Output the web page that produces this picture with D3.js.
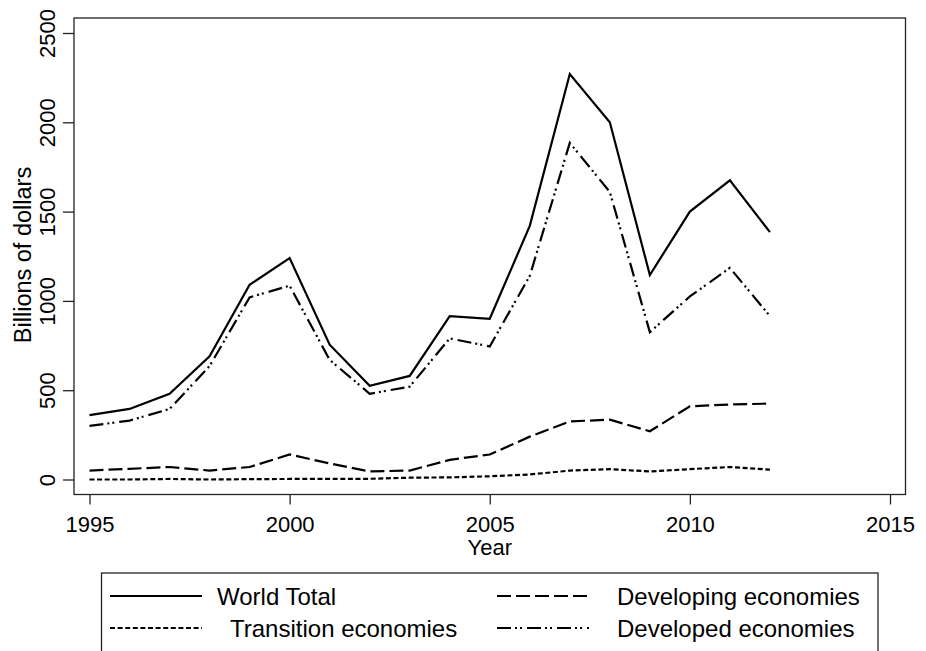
<!DOCTYPE html>
<html>
<head>
<meta charset="utf-8">
<script src="https://cdn.jsdelivr.net/npm/d3@7"></script>
<style>
  body { margin: 0; background: #fff; }
  svg { display: block; font-family: "Liberation Sans", Arial, sans-serif; }
</style>
</head>
<body>
<div id="chart"></div>
<script>
const years = d3.range(1995, 2013);
const worldTotal = [360, 395, 480, 690, 1090, 1240, 755, 525, 580, 915, 900, 1420, 2270, 2000, 1145, 1500, 1675, 1385];
const developed  = [300, 330, 395, 635, 1020, 1085, 670, 480, 520, 790, 745, 1140, 1885, 1610, 825, 1025, 1185, 915];
const developing = [50, 60, 70, 50, 70, 140, 90, 45, 50, 110, 140, 240, 325, 335, 270, 410, 420, 425];
const transition = [0, 0, 3, 0, 2, 3, 3, 4, 10, 12, 18, 28, 50, 58, 45, 58, 70, 55];
const xTicks = [1995, 2000, 2005, 2010, 2015];
const yTicks = [0, 500, 1000, 1500, 2000, 2500];

const series = [
  { name: "World Total", values: worldTotal, dash: null },
  { name: "Developing economies", values: developing, dash: "14,5" },
  { name: "Transition economies", values: transition, dash: "5,2.6" },
  { name: "Developed economies", values: developed, dash: "14,4,2,3,2,5" }
];

const W = 926, H = 651;
const box = { left: 74, right: 905.5, top: 18, bottom: 494.5 };

const svg = d3.select("#chart").append("svg")
  .attr("width", W).attr("height", H);

const x = d3.scaleLinear().domain([1995, 2015]).range([89.5, 890]);
const y = d3.scaleLinear().domain([0, 2500]).range([479.5, 33]);

// plot frame
svg.append("rect")
  .attr("x", box.left).attr("y", box.top)
  .attr("width", box.right - box.left).attr("height", box.bottom - box.top)
  .attr("fill", "none").attr("stroke", "#222").attr("stroke-width", 1.3);

// y axis
const yAxis = svg.append("g")
  .attr("transform", `translate(${box.left},0)`)
  .call(d3.axisLeft(y).tickValues(yTicks).tickSize(11).tickFormat(d3.format("d")));
yAxis.select(".domain").remove();
yAxis.selectAll("line").attr("stroke", "#222").attr("stroke-width", 1.3);
yAxis.selectAll("text")
  .attr("font-size", 22).attr("fill", "#000")
  .attr("transform", "rotate(-90)")
  .attr("x", 0).attr("y", -19).attr("dy", 0)
  .attr("text-anchor", "middle");

// x axis
const xAxis = svg.append("g")
  .attr("transform", `translate(0,${box.bottom})`)
  .call(d3.axisBottom(x).tickValues(xTicks).tickSize(10).tickFormat(d3.format("d")));
xAxis.select(".domain").remove();
xAxis.selectAll("line").attr("stroke", "#222").attr("stroke-width", 1.3);
xAxis.selectAll("text")
  .attr("font-size", 22).attr("fill", "#000")
  .attr("y", 37.5).attr("dy", 0);

// axis titles
svg.append("text")
  .attr("transform", "translate(31,255) rotate(-90)")
  .attr("text-anchor", "middle").attr("font-size", 23.5)
  .text("Billions of dollars");
svg.append("text")
  .attr("x", x(2005)).attr("y", 555)
  .attr("text-anchor", "middle").attr("font-size", 22)
  .text("Year");

// lines
const line = d3.line()
  .x((d, i) => x(years[i]))
  .y(d => y(d));

svg.append("g").selectAll("path")
  .data(series)
  .join("path")
  .attr("d", d => line(d.values))
  .attr("fill", "none")
  .attr("stroke", "#000")
  .attr("stroke-width", 2.2)
  .attr("stroke-dasharray", d => d.dash);

// legend
const leg = svg.append("g");
leg.append("rect")
  .attr("x", 101.5).attr("y", 573).attr("width", 776.5).attr("height", 90)
  .attr("fill", "#fff").attr("stroke", "#222").attr("stroke-width", 1.3);

const legPos = [
  { sx: 110, ex: 202, tx: 217, y: 596 },
  { sx: 497, ex: 589, tx: 617, y: 596 },
  { sx: 110, ex: 202, tx: 230, y: 628 },
  { sx: 497, ex: 589, tx: 617, y: 628 }
];

series.forEach((s, i) => {
  const p = legPos[i];
  leg.append("line")
    .attr("x1", p.sx).attr("x2", p.ex)
    .attr("y1", p.y).attr("y2", p.y)
    .attr("stroke", "#000").attr("stroke-width", 2.2)
    .attr("stroke-dasharray", s.dash);
  leg.append("text")
    .attr("x", p.tx).attr("y", p.y + 9)
    .attr("font-size", 24)
    .text(s.name);
});
</script>
</body>
</html>
